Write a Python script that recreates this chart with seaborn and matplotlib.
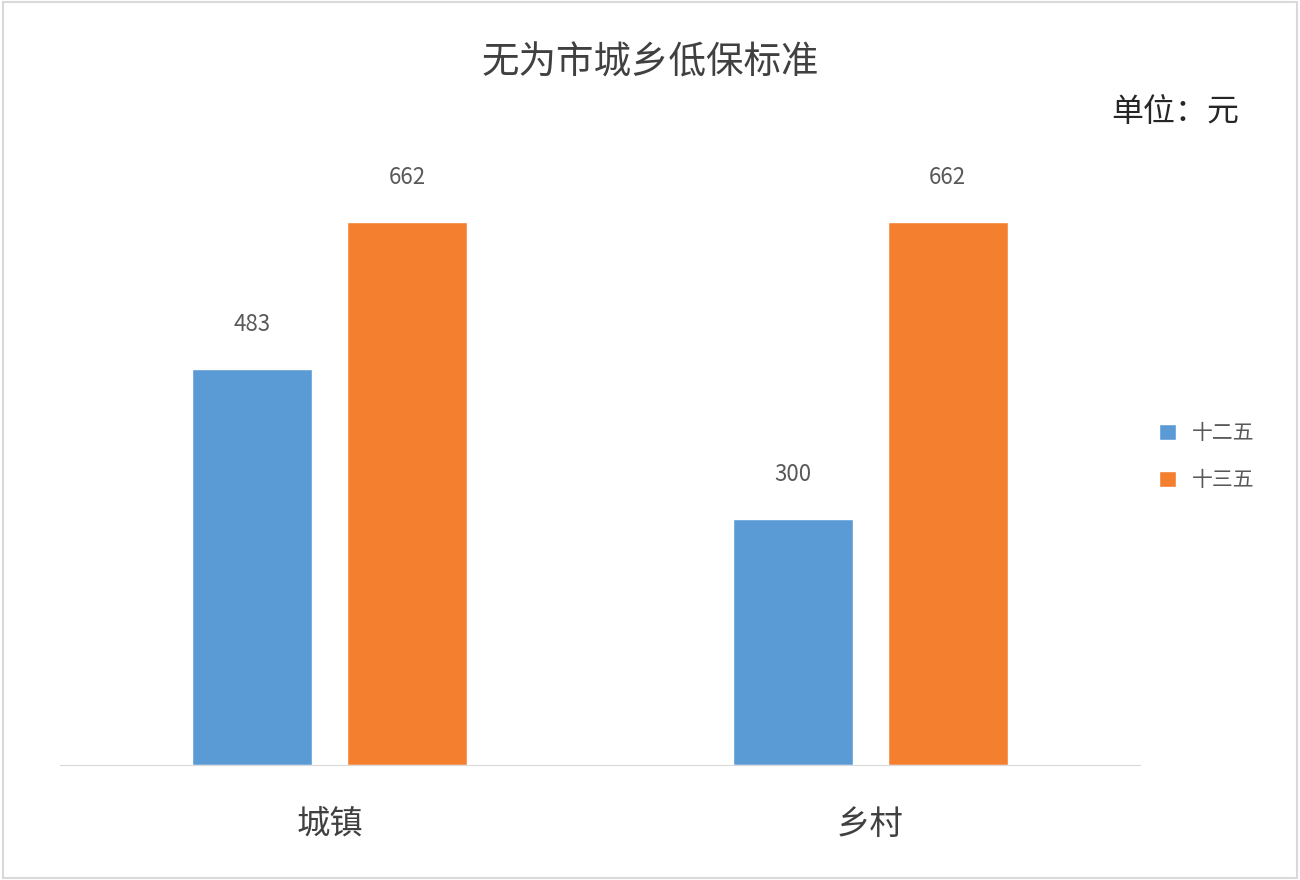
import matplotlib
matplotlib.use("Agg")
import matplotlib.pyplot as plt
import seaborn as sns
import pandas as pd

categories = ["城镇", "乡村"]
series = ["十二五", "十三五"]
values_12 = [483, 300]
values_13 = [662, 662]

df = pd.DataFrame({
    "cat": categories * 2,
    "series": [series[0]] * 2 + [series[1]] * 2,
    "val": values_12 + values_13,
})

sns.set_style("white")
plt.rcParams['font.family'] = ['Noto Sans CJK SC', 'DejaVu Sans']

fig = plt.figure(figsize=(13, 8.8), dpi=100)
ax = fig.add_axes([0.046, 0.1307, 0.831, 0.745])
colors = ["#5B9BD5", "#F47F2F"]
sns.barplot(data=df, x="cat", y="val", hue="series", palette=colors,
            width=0.574, gap=0.226, ax=ax, saturation=1)
ax.set_xlim(-0.5, 1.5)
ax.set_ylim(0, 800)
ax.set_xlabel("")
ax.set_ylabel("")
ax.set_yticks([])
for s in ["top", "right", "left"]:
    ax.spines[s].set_visible(False)
ax.spines["bottom"].set_color("#D9D9D9")
ax.tick_params(axis="x", length=0, labelsize=24, labelcolor="#404040", pad=30)
for c in ax.containers:
    ax.bar_label(c, labels=[f"{int(v)}" for v in c.datavalues], padding=24,
                 fontsize=16, color="#595959")

leg = ax.legend(loc="center left", bbox_to_anchor=(1.0, 0.47), frameon=False,
                fontsize=15, handlelength=0.8, handleheight=0.8, labelspacing=1.2)
for t in leg.get_texts():
    t.set_color("#595959")

fig.text(0.5, 0.928, "无为市城乡低保标准", ha="center", va="center",
         fontsize=27, color="#404040")
fig.text(0.953, 0.873, "单位：元", ha="right", va="center", fontsize=23,
         color="#262626")
fig.patches.append(plt.Rectangle((0.002, 0.002), 0.996, 0.996, transform=fig.transFigure,
                                 fill=False, edgecolor="#D9D9D9", linewidth=1.5))
fig.savefig("out.png", dpi=100)
